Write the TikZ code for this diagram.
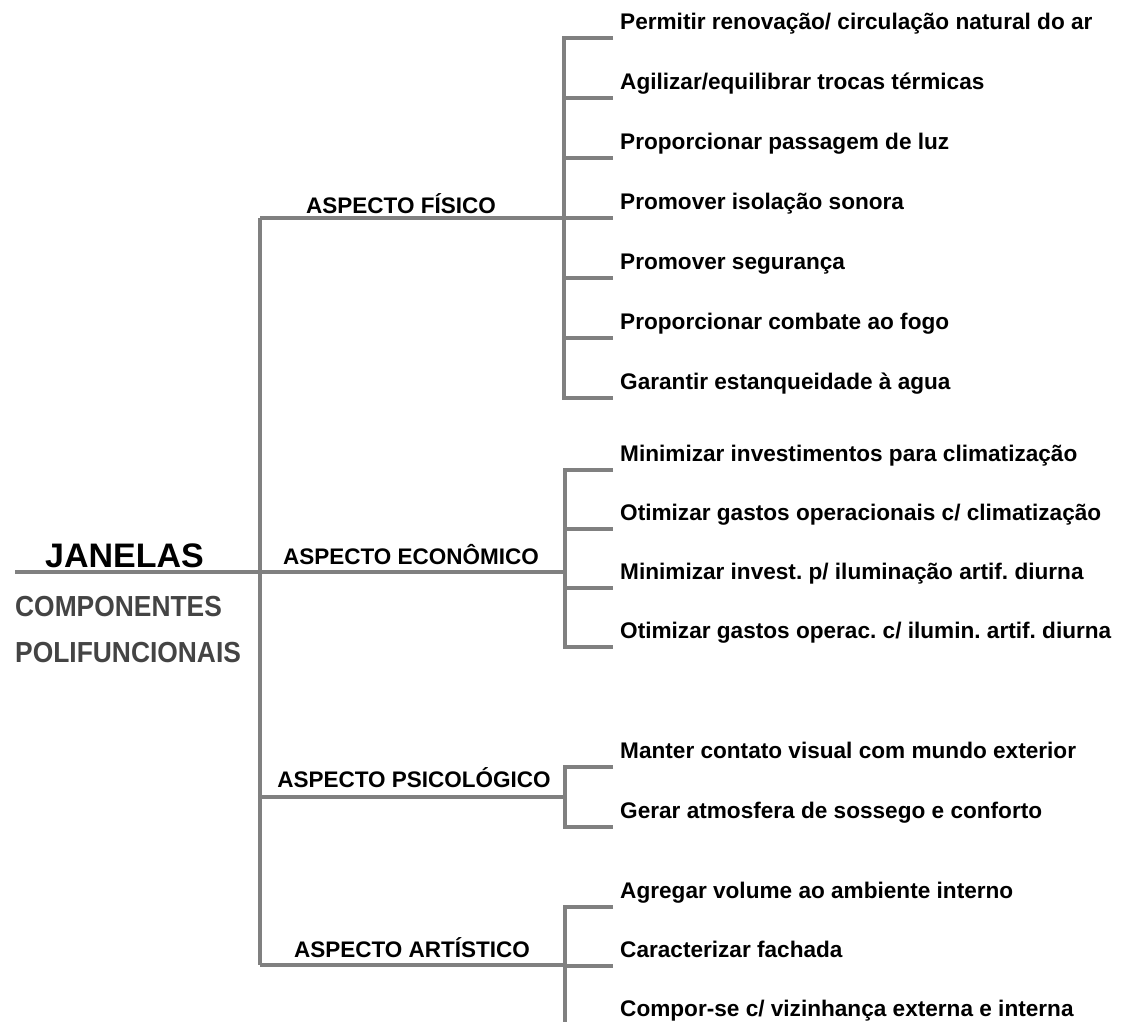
\documentclass[tikz,border=0pt]{standalone}
\usepackage{fontspec}
\setmainfont{Liberation Sans}
\frenchspacing
\definecolor{linegray}{HTML}{808080}
\definecolor{titlegray}{HTML}{444444}
\begin{document}
\begin{tikzpicture}[x=1pt,y=-1pt,
  conn/.style={draw=linegray,line width=4pt,line join=miter},
  item/.style={anchor=base west,inner sep=0pt,font=\fontsize{22.6}{26}\selectfont\bfseries\frenchspacing},
  aspect/.style={anchor=base,inner sep=0pt,font=\fontsize{22.5}{26}\selectfont\bfseries},
  title/.style={anchor=base west,inner sep=0pt,font=\fontsize{34}{40}\selectfont\bfseries},
  subtitle/.style={anchor=base west,inner sep=0pt,text=titlegray,xscale=0.91,font=\fontsize{29}{34}\selectfont\bfseries}]
\useasboundingbox (0,0) rectangle (1129,1021);
\clip (0,0) rectangle (1129,1021);
% left titles
\node[title] (janelas) at (45,567) {JANELAS};
\node[subtitle] (comp) at (15,616) {COMPONENTES};
\node[subtitle] (poli) at (15,662) {POLIFUNCIONAIS};
% structure coordinates
\coordinate (root) at (15,572);
\coordinate (mtop) at (260,218);
\coordinate (mbot) at (260,965);
\coordinate (mpsi) at (260,797);
\coordinate (fM) at (564,218);
\coordinate (eM) at (565,572);
\coordinate (pM) at (565,797);
\coordinate (aM) at (565,965);
% main lines
\draw[conn] (root) -- (eM);
\draw[conn] (mtop) -- (mbot);
\draw[conn] (mtop) -- (fM);
\draw[conn] (mpsi) -- (pM);
\draw[conn] (mbot) -- (aM);
% aspect labels
\node[aspect] (lfis) at (401,213) {ASPECTO FÍSICO};
\node[aspect] (leco) at (411,564) {ASPECTO ECONÔMICO};
\node[aspect] (lpsi) at (414,787) {ASPECTO PSICOLÓGICO};
\node[aspect] (lart) at (412,957) {ASPECTO ARTÍSTICO};
% physical items
\foreach \y/\t [count=\i] in {38/{Permitir renovação/ circulação natural do ar},
  98/{Agilizar/equilibrar trocas térmicas},
  158/{Proporcionar passagem de luz},
  218/{Promover isolação sonora},
  278/{Promover segurança},
  338/{Proporcionar combate ao fogo},
  398/{Garantir estanqueidade à agua}}{
  \coordinate (ft\i) at (564,\y);
  \coordinate (fe\i) at (613,\y);
  \node[item] (fi\i) at (620,\y-9) {\t};
}
\draw[conn] (fe1) -- (ft1) -- (ft7) -- (fe7);
\foreach \i in {2,...,6}{\draw[conn] (ft\i) -- (fe\i);}
% economic items
\foreach \y/\t [count=\i] in {470/{Minimizar investimentos para climatização},
  529/{Otimizar gastos operacionais c/ climatização},
  588/{Minimizar invest. p/ iluminação artif. diurna},
  647/{Otimizar gastos operac. c/ ilumin. artif. diurna}}{
  \coordinate (et\i) at (565,\y);
  \coordinate (ee\i) at (613,\y);
  \node[item] (ei\i) at (620,\y-9) {\t};
}
\draw[conn] (ee1) -- (et1) -- (et4) -- (ee4);
\foreach \i in {2,3}{\draw[conn] (et\i) -- (ee\i);}
% psychological items
\foreach \y/\t [count=\i] in {767/{Manter contato visual com mundo exterior},
  827/{Gerar atmosfera de sossego e conforto}}{
  \coordinate (pt\i) at (565,\y);
  \coordinate (pe\i) at (613,\y);
  \node[item] (pi\i) at (620,\y-9) {\t};
}
\draw[conn] (pe1) -- (pt1) -- (pt2) -- (pe2);
% artistic items
\foreach \y/\t [count=\i] in {907/{Agregar volume ao ambiente interno},
  966/{Caracterizar fachada},
  1025/{Compor-se c/ vizinhança externa e interna}}{
  \coordinate (at\i) at (565,\y);
  \coordinate (ae\i) at (613,\y);
  \node[item] (ai\i) at (620,\y-9) {\t};
}
\draw[conn] (ae1) -- (at1) -- (at3) -- (ae3);
\draw[conn] (at2) -- (ae2);
\end{tikzpicture}
\end{document}
